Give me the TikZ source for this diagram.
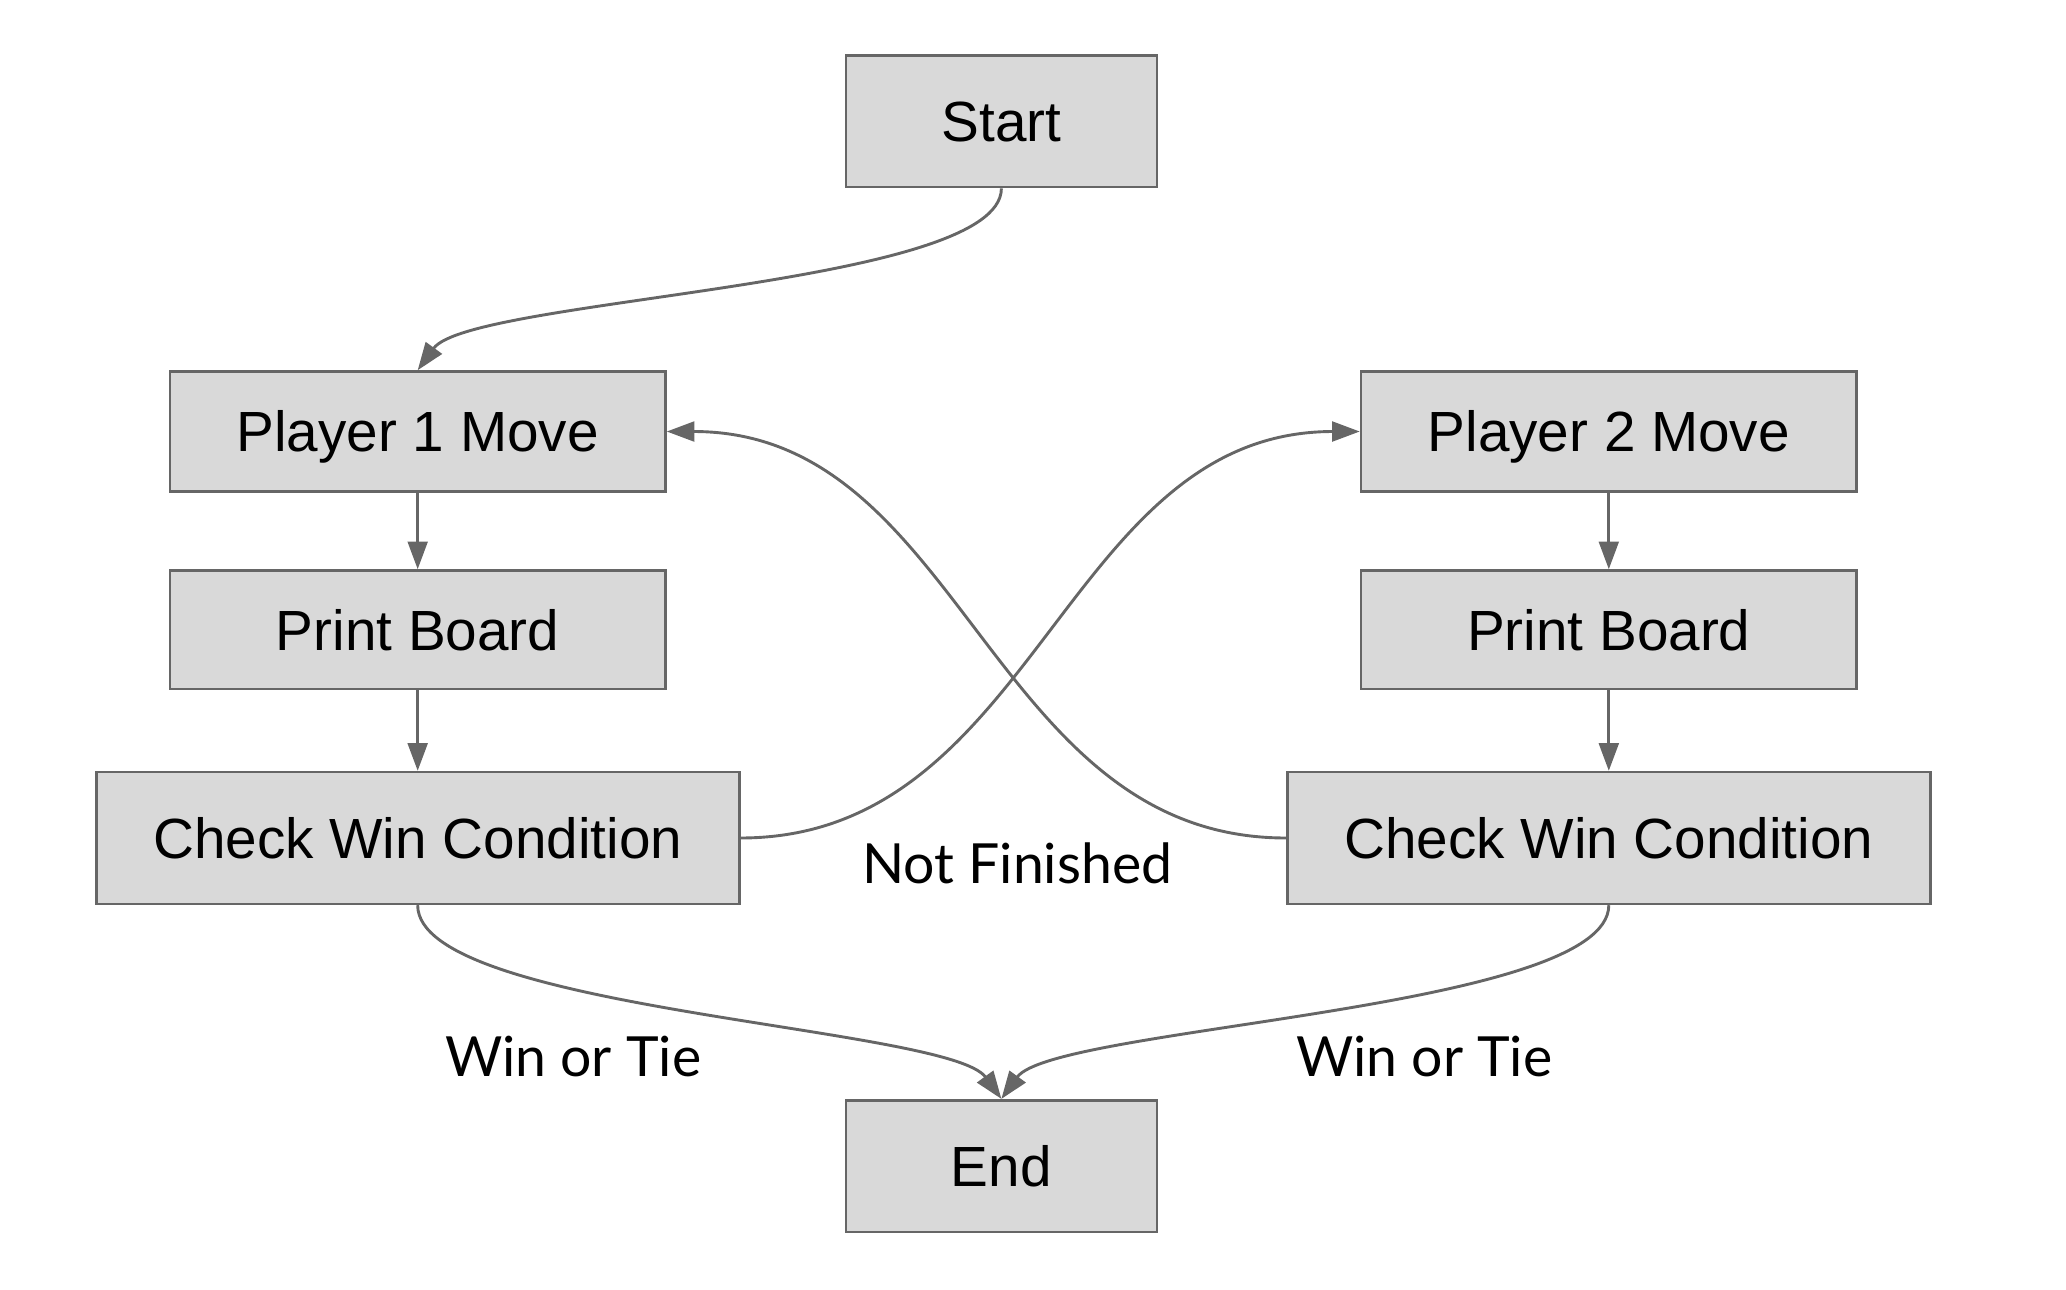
\documentclass[tikz,border=0pt]{standalone}
\usepackage{fontspec}
\setmainfont{Liberation Sans}
\newfontfamily\labelfont{Lato}
\usetikzlibrary{arrows.meta}
\definecolor{boxfill}{HTML}{D9D9D9}
\definecolor{boxline}{HTML}{666666}
\tikzset{
  flowbox/.style={draw=boxline, fill=boxfill, line width=2pt, inner sep=0pt,
    minimum height=#1, font=\fontsize{43}{50}\selectfont, anchor=center,
    text height=31pt, text depth=0pt},
  flowbox/.default=91pt,
  conn/.style={draw=boxline, line width=2.2pt,
    -{Triangle[length=21pt,width=15pt]}},
  edgelabel/.style={font=\labelfont\fontsize{42}{50}\selectfont, inner sep=0pt}
}
\begin{document}
\begin{tikzpicture}[x=1pt,y=-1pt]
\useasboundingbox (0,0) rectangle (1568,979);
\node[flowbox=100pt, minimum width=236pt] (start) at (760,92) {Start};
\node[flowbox=91pt, minimum width=376pt] (p1) at (317,327.5) {Player 1 Move};
\node[flowbox=90pt, minimum width=376pt] (pb1) at (317,478) {Print Board};
\node[flowbox=100pt, minimum width=488pt] (cw1) at (317,636) {Check Win Condition};
\node[flowbox=91pt, minimum width=376pt] (p2) at (1221,327.5) {Player 2 Move};
\node[flowbox=90pt, minimum width=376pt] (pb2) at (1221,478) {Print Board};
\node[flowbox=100pt, minimum width=488pt] (cw2) at (1221,636) {Check Win Condition};
\node[flowbox=100pt, minimum width=236pt] (end) at (760,885) {End};

\node[edgelabel] (nf) at (772,655) {Not Finished};
\node[edgelabel] (wt1) at (435,802) {Win or Tie};
\node[edgelabel] (wt2) at (1081,802) {Win or Tie};

\draw[conn] (start.south) .. controls +(0,75) and +(40,-55) .. (p1.north);
\draw[conn] (p1.south) -- (pb1.north);
\draw[conn] (pb1.south) -- (cw1.north);
\draw[conn] (p2.south) -- (pb2.north);
\draw[conn] (pb2.south) -- (cw2.north);
\draw[conn] (cw1.east) .. controls +(225,0) and +(-225,0) .. (p2.west);
\draw[conn] (cw2.west) .. controls +(-225,0) and +(225,0) .. (p1.east);
\draw[conn] (cw1.south) .. controls +(0,80) and +(-40,-55) .. (end.north);
\draw[conn] (cw2.south) .. controls +(0,80) and +(40,-55) .. (end.north);
\end{tikzpicture}
\end{document}
